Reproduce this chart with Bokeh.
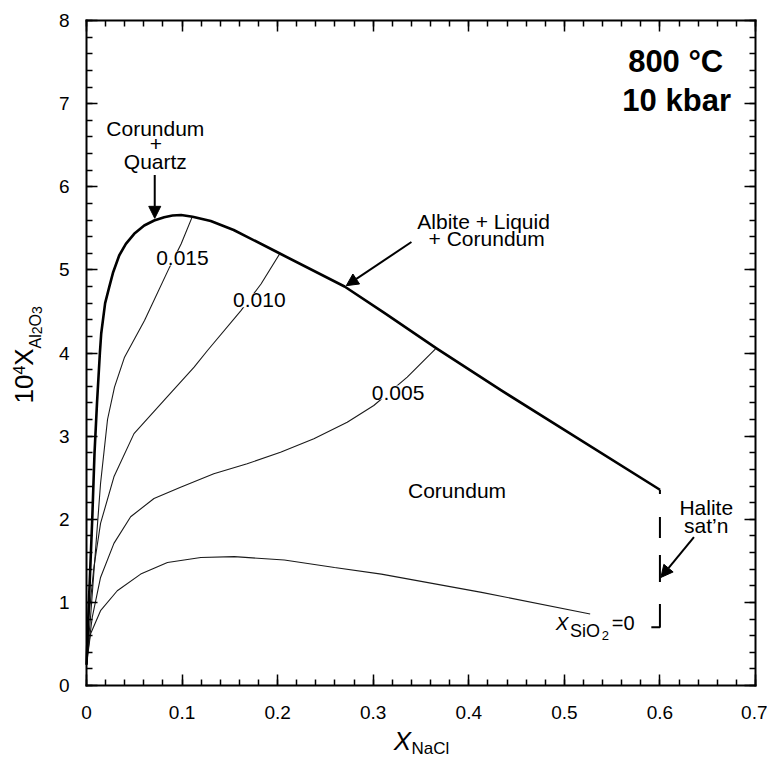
from bokeh.plotting import figure
from bokeh.models import Range1d, FixedTicker, LinearAxis, Label, Arrow, NormalHead
from bokeh.embed import file_html
from bokeh.resources import INLINE
import math

FONT = "Liberation Sans"

# ---------------- data ----------------
# Albite + Liquid + Corundum saturation boundary (thick curve)
x_boundary = [0.0, 0.0025, 0.006, 0.0084, 0.011, 0.014, 0.0154, 0.0195, 0.0237, 0.0279,
              0.0342, 0.0412, 0.0499, 0.0604, 0.0708, 0.0813, 0.09, 0.099, 0.111, 0.130,
              0.154, 0.2018, 0.27, 0.312, 0.367, 0.434, 0.6]
y_boundary = [0.25, 1.0, 2.0, 2.8, 3.4, 4.0, 4.235, 4.6, 4.79, 4.972,
              5.173, 5.313, 5.434, 5.534, 5.594, 5.634, 5.654, 5.66, 5.64, 5.587,
              5.48, 5.2, 4.8, 4.48, 4.05, 3.55, 2.355]

# isopleths of X_SiO2
x_iso_015 = [0.0, 0.0042, 0.0094, 0.0147, 0.022, 0.0293, 0.0398, 0.0607, 0.0868, 0.0991, 0.1105]
y_iso_015 = [0.25, 0.82, 1.62, 2.43, 3.2, 3.59, 3.95, 4.39, 5.03, 5.314, 5.635]

x_iso_010 = [0.0, 0.0024, 0.0077, 0.0147, 0.0287, 0.0497, 0.0811, 0.1126, 0.1266, 0.1616, 0.1826, 0.2025]
y_iso_010 = [0.25, 0.82, 1.42, 1.95, 2.51, 3.03, 3.43, 3.83, 4.03, 4.51, 4.83, 5.2]

x_iso_005 = [0.0, 0.0007, 0.006, 0.0147, 0.0287, 0.0462, 0.0706, 0.0984, 0.1332, 0.1681,
             0.203, 0.2379, 0.2728, 0.3006, 0.3356, 0.3652]
y_iso_005 = [0.25, 0.34, 0.82, 1.30, 1.71, 2.03, 2.25, 2.386, 2.547, 2.667,
             2.807, 2.968, 3.168, 3.368, 3.709, 4.05]

x_iso_000 = [0.0, 0.0042, 0.0147, 0.0322, 0.0567, 0.0847, 0.1196, 0.1546, 0.207, 0.2595,
             0.3085, 0.4134, 0.527]
y_iso_000 = [0.25, 0.62, 0.90, 1.14, 1.34, 1.48, 1.54, 1.55, 1.51, 1.42,
             1.34, 1.12, 0.86]

# halite saturation (dashed)
x_halite = [0.591, 0.6, 0.6]
y_halite = [0.70, 0.70, 2.355]

# ticks
x_ticks = [0, 0.1, 0.2, 0.3, 0.4, 0.5, 0.6, 0.7]
x_tick_labels = ["0", "0.1", "0.2", "0.3", "0.4", "0.5", "0.6", "0.7"]
y_ticks = [0, 1, 2, 3, 4, 5, 6, 7, 8]
x_minor = [round(i * 0.02, 2) for i in range(36)]
y_minor = [round(i * 0.2, 1) for i in range(41)]
X_MIN, X_MAX, Y_MIN, Y_MAX = 0.0, 0.7, 0.0, 8.0

# ---------------- layout geometry (pixels) ----------------
W, H = 767, 757
BOX_L, BOX_R, BOX_T, BOX_B = 86, 755, 20, 685
sx = (BOX_R - BOX_L) / (X_MAX - X_MIN)
sy = (BOX_B - BOX_T) / (Y_MAX - Y_MIN)

p = figure(width=W, height=H,
           x_range=Range1d(X_MIN - BOX_L / sx, X_MIN + (W - BOX_L) / sx),
           y_range=Range1d(Y_MIN - (H - BOX_B) / sy, Y_MIN + BOX_B / sy),
           output_backend="svg", toolbar_location=None,
           x_axis_location=None, y_axis_location=None,
           min_border=0, min_border_left=0, min_border_right=0,
           min_border_top=0, min_border_bottom=0,
           background_fill_color="white", border_fill_color="white")
p.grid.visible = False
p.outline_line_color = None


def make_axis(ticks, minor, bounds, loc, show_labels, standoff):
    ax = LinearAxis(fixed_location=loc, bounds=bounds)
    ax.ticker = FixedTicker(ticks=ticks, minor_ticks=minor)
    ax.major_tick_in = 11
    ax.major_tick_out = 0
    ax.minor_tick_in = 6
    ax.minor_tick_out = 0
    ax.major_tick_line_width = 1.5
    ax.minor_tick_line_width = 1.5
    ax.major_tick_line_color = "black"
    ax.minor_tick_line_color = "black"
    ax.axis_line_width = 2
    ax.axis_line_color = "black"
    ax.axis_line_cap = "square"
    ax.major_label_text_font = FONT
    ax.major_label_text_font_size = "19px"
    ax.major_label_standoff = standoff
    if show_labels:
        ax.major_label_text_color = "black"
    else:
        ax.major_label_text_color = None
    return ax


bottom = make_axis(x_ticks, x_minor, (X_MIN, X_MAX), Y_MIN, True, 20)
bottom.major_label_overrides = dict(zip(x_ticks, x_tick_labels))
p.add_layout(bottom, "below")
p.add_layout(make_axis(x_ticks, x_minor, (X_MIN, X_MAX), Y_MAX, False, 0), "above")
p.add_layout(make_axis(y_ticks, y_minor, (Y_MIN, Y_MAX), X_MIN, True, 17), "left")
p.add_layout(make_axis(y_ticks, y_minor, (Y_MIN, Y_MAX), X_MAX, False, 0), "right")

# ---------------- curves ----------------
thin = dict(line_color="#1a1a1a", line_width=1.1)
p.line(x_iso_000, y_iso_000, **thin)
p.line(x_iso_005, y_iso_005, **thin)
p.line(x_iso_010, y_iso_010, **thin)
p.line(x_iso_015, y_iso_015, **thin)
p.line(x_boundary, y_boundary, line_color="black", line_width=2.6, line_join="round")
p.line(x_halite, y_halite, line_color="black", line_width=2, line_dash="32 22 27 17 21 23 10 10")


# ---------------- annotations ----------------
MID = 0.33  # em-box middle above the alphabetic baseline


def lab(x, y, text, size=21, align="center", bold=False, italic=False, bg=None,
        xo=0.0, yo=0.0, rotated=False):
    """(x, y) + offsets give the alphabetic baseline point of the text."""
    style = "normal"
    if bold:
        style = "bold"
    if italic:
        style = "italic"
    kw = {}
    if bg is not None:
        kw["background_fill_color"] = bg
    if rotated:
        xo = xo - MID * size
        angle = math.pi / 2
    else:
        yo = yo + MID * size
        angle = 0.0
    p.add_layout(Label(x=x, y=y, text=text, text_font=FONT, text_font_size=f"{size}px",
                       text_font_style=style, text_align=align, text_baseline="middle",
                       text_color="black", x_offset=xo, y_offset=yo, angle=angle, **kw))


lab(0.072, 6.619, "Corundum")
lab(0.0725, 6.428, "+")
lab(0.072, 6.217, "Quartz")

lab(0.1004, 5.054, "0.015", bg="white")
lab(0.1808, 4.552, "0.010", bg="white")
lab(0.326, 3.44, "0.005", bg="white")

lab(0.4155, 5.494, "Albite + Liquid")
lab(0.4187, 5.295, "+ Corundum")
lab(0.3877, 2.266, "Corundum")
lab(0.6485, 2.058, "Halite")
lab(0.6485, 1.845, "sat\u2019n")

lab(0.6165, 7.38, "800 \u00b0C", size=31, bold=True)
lab(0.6175, 6.92, "10 kbar", size=31, bold=True)

# X_SiO2 = 0 label
lab(0.491, 0.670, "X", size=19, align="left", italic=True)
lab(0.491, 0.670, "SiO", size=18, align="left", xo=14.3, yo=-7.4)
lab(0.491, 0.670, "2", size=13, align="left", xo=46, yo=-9.7)
lab(0.491, 0.670, "=0", size=20, align="left", xo=56)

# x-axis title  X_NaCl
lab(X_MIN, Y_MIN, "X", size=26, align="left", italic=True, xo=307.3, yo=-64.5)
lab(X_MIN, Y_MIN, "NaCl", size=17, align="left", xo=325, yo=-68.5)

# y-axis title 10^4 X_Al2O3 (rotated)
lab(X_MIN, Y_MIN, "10", size=26, align="left", xo=-54.3, yo=282, rotated=True)
lab(X_MIN, Y_MIN, "4", size=16, align="left", xo=-62.7, yo=310.9, rotated=True)
lab(X_MIN, Y_MIN, "X", size=26, align="left", xo=-54.3, yo=319.8, rotated=True)
lab(X_MIN, Y_MIN, "Al", size=16, align="left", xo=-46, yo=337.1, rotated=True)
lab(X_MIN, Y_MIN, "2", size=14, align="left", xo=-44.5, yo=351.3, rotated=True)
lab(X_MIN, Y_MIN, "O", size=16, align="left", xo=-46, yo=359.1, rotated=True)
lab(X_MIN, Y_MIN, "3", size=14, align="left", xo=-44.5, yo=371.5, rotated=True)

# arrows
head = dict(size=12, fill_color="black", line_color="black", line_width=1)
p.add_layout(Arrow(end=NormalHead(**head), x_start=0.0714, y_start=6.14, x_end=0.0714, y_end=5.62,
                   line_width=2, line_color="black"))
p.add_layout(Arrow(end=NormalHead(**head), x_start=0.34, y_start=5.335, x_end=0.2718, y_end=4.81,
                   line_width=2, line_color="black"))
p.add_layout(Arrow(end=NormalHead(**head), x_start=0.6356, y_start=1.785, x_end=0.601, y_end=1.30,
                   line_width=2, line_color="black"))

open("out.html", "w").write(file_html(p, INLINE))
